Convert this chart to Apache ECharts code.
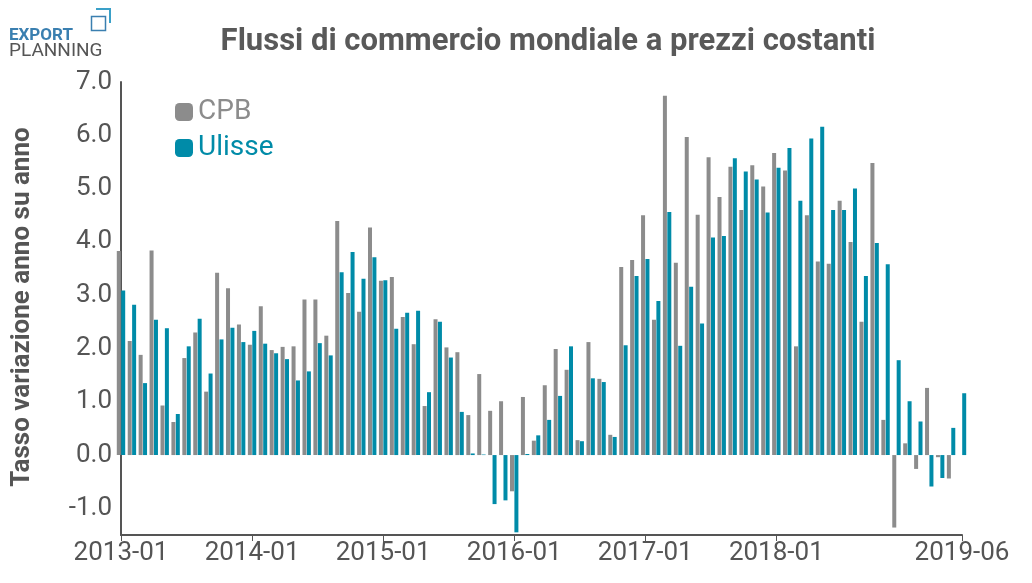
<!DOCTYPE html>
<html><head><meta charset="utf-8">
<script src="https://cdn.jsdelivr.net/npm/echarts@6/dist/echarts.min.js"></script>
<style>html,body{margin:0;padding:0;background:#fff}#c{width:1032px;height:583px}</style>
</head><body><div id="c"></div>
<script>
const months = [];
for (let y = 2013; y <= 2019; y++) for (let m = 1; m <= 12; m++) { if (y === 2019 && m > 6) break; months.push(y + '-' + String(m).padStart(2, '0')); }
const cpb = [3.83,2.14,1.88,3.84,0.93,0.62,1.82,2.30,1.19,3.42,3.13,2.45,
 2.07,2.79,1.97,2.03,2.04,2.92,2.92,2.24,4.39,3.04,2.69,4.27,
 3.27,3.34,2.59,2.08,0.92,2.55,2.02,1.93,0.75,1.52,0.83,1.01,
 -0.68,1.09,0.27,1.31,1.99,1.60,0.28,2.12,1.43,0.38,3.53,3.66,
 4.50,2.54,6.74,3.61,5.97,4.51,5.59,4.84,5.41,4.60,5.44,5.04,
 5.67,5.34,2.04,4.50,3.63,3.59,4.77,4.00,2.50,5.48,0.66,-1.36,
 0.22,-0.26,1.26,-0.04,-0.44,null];
const ulisse = [3.09,2.82,1.35,2.54,2.38,0.77,2.04,2.56,1.53,2.17,2.39,2.12,
 2.33,2.09,1.91,1.80,1.40,1.57,2.10,1.87,3.43,3.81,3.31,3.71,
 3.28,2.37,2.67,2.71,1.18,2.50,1.83,0.81,0.03,0.01,-0.92,-0.85,
 -1.45,0.02,0.37,0.66,1.11,2.04,0.26,1.44,1.37,0.34,2.06,3.36,
 3.68,2.89,4.56,2.05,3.16,2.47,4.08,4.11,5.57,5.32,5.17,4.55,
 5.39,5.76,4.77,5.94,6.16,4.60,4.60,5.00,3.36,3.98,3.58,1.78,
 1.01,0.63,-0.59,-0.43,0.51,1.16];
const labelIdx = [0,12,24,36,48,60,77];
const chart = echarts.init(document.getElementById('c'));
chart.setOption({
  animation:false,
  title:{text:'Flussi di commercio mondiale a prezzi costanti',left:543,textAlign:'center',top:22,
    textStyle:{fontFamily:'Roboto',fontSize:31,fontWeight:'bold',color:'#595959'}},
  graphic:[
    {type:'text',left:9,top:27,style:{text:'EXPORT',font:'bold 17px Roboto',fill:'#3a7fb0'}},
    {type:'text',left:9,top:42,style:{text:'PLANNING',font:'19px Roboto',fill:'#555'}},
    {type:'rect',left:89,top:14,shape:{width:14,height:14},style:{fill:'none',stroke:'#3a7fb0',lineWidth:1.5}},
    {type:'polyline',shape:{points:[[96,9],[110,9],[110,23]]},style:{fill:'none',stroke:'#3aa0c8',lineWidth:2}},
    {type:'text',rotation:Math.PI/2,x:22,y:307,style:{text:'Tasso variazione anno su anno',font:'bold 26px Roboto',fill:'#555',align:'center',verticalAlign:'middle'}}
  ],
  legend:{left:170,top:93,orient:'vertical',itemWidth:18,itemHeight:18,itemGap:8,
    data:[{name:'CPB',textStyle:{color:'#8c8c8c'}},{name:'Ulisse',textStyle:{color:'#008ba8'}}],
    textStyle:{fontFamily:'Roboto',fontSize:28}},
  grid:{left:121,right:70,top:82,bottom:48,containLabel:false},
  xAxis:{type:'category',data:months,boundaryGap:false,
    axisLine:{onZero:false,lineStyle:{color:'#555',width:2}},
    axisTick:{interval:(i)=>labelIdx.includes(i),length:6,lineStyle:{color:'#555'}},
    axisLabel:{interval:(i)=>labelIdx.includes(i),fontFamily:'Roboto',fontSize:26,color:'#555',margin:5,showMaxLabel:true}},
  yAxis:{type:'value',min:-1.5,max:7,interval:0.5,
    axisLine:{show:true,lineStyle:{color:'#555',width:2}},
    axisTick:{show:false},splitLine:{show:false},
    axisLabel:{fontFamily:'Roboto',fontSize:26,color:'#555',margin:9,
      formatter:(v)=> (Math.abs(v-Math.round(v))<1e-6 && v>-1.5) ? v.toFixed(1) : ''}},
  series:[
    {name:'CPB',type:'bar',data:cpb,barWidth:4,barGap:'10%',itemStyle:{color:'#8c8c8c'}},
    {name:'Ulisse',type:'bar',data:ulisse,barWidth:4,itemStyle:{color:'#008ba8'}}
  ]
});
</script></body></html>
